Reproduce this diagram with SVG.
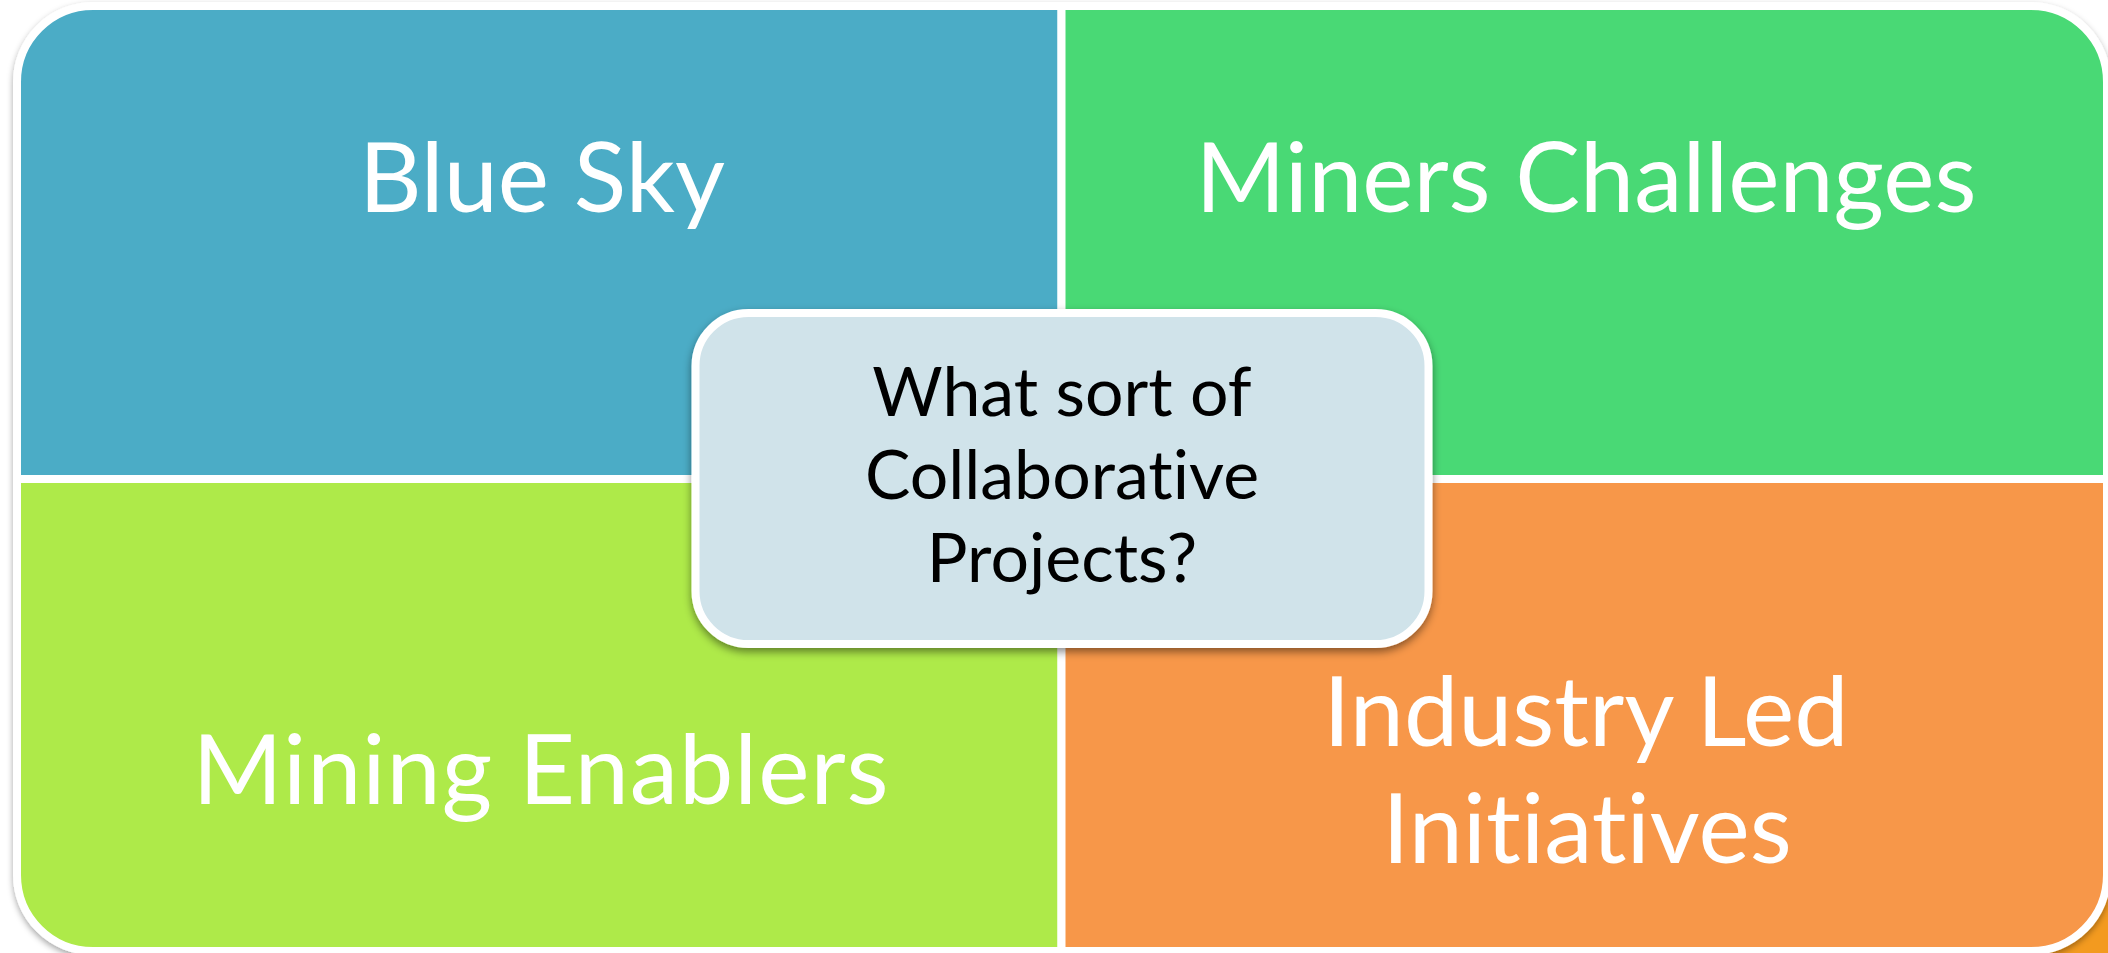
<svg xmlns="http://www.w3.org/2000/svg" width="2108" height="953" viewBox="0 0 2108 953">
  <defs>
    <filter id="shQuad" x="-5%" y="-5%" width="110%" height="115%">
      <feDropShadow dx="0" dy="3" stdDeviation="3" flood-color="#000" flood-opacity="0.35"/>
    </filter>
    <filter id="shCenter" x="-5%" y="-5%" width="110%" height="120%">
      <feDropShadow dx="0" dy="4" stdDeviation="4" flood-color="#000" flood-opacity="0.45"/>
    </filter>
    <style>
      .quad { stroke: #FFFFFF; stroke-width: 8; stroke-linejoin: round; }
      .qtext { font-family: Lato, "Liberation Sans", sans-serif; font-size: 97px; fill: #FFFFFF; text-anchor: middle; font-variant-ligatures: none; font-feature-settings: "liga" 0; }
      .ctext { font-family: Lato, "Liberation Sans", sans-serif; font-size: 68px; fill: #000000; text-anchor: middle; font-variant-ligatures: none; font-feature-settings: "liga" 0; }
    </style>
  </defs>
  <rect x="0" y="0" width="2108" height="953" fill="#FFFFFF"/>
  <path d="M2108 880 L2108 953 L2000 953 Z" fill="#F39A1F"/>
  <g id="quadrants" filter="url(#shQuad)">
    <g id="blue-sky">
      <path class="quad" fill="#4BACC6" d="M17 82 A76 76 0 0 1 93 6 L1061.5 6 L1061.5 479 L17 479 Z"/>
      <text class="qtext" x="542" y="212">Blue Sky</text>
    </g>
    <g id="miners-challenges">
      <path class="quad" fill="#4AD974" d="M1061.5 6 L2031 6 A76 76 0 0 1 2107 82 L2107 479 L1061.5 479 Z"/>
      <text class="qtext" x="1586" y="212">Miners Challenges</text>
    </g>
    <g id="mining-enablers">
      <path class="quad" fill="#AEEA48" d="M17 479 L1061.5 479 L1061.5 951 L93 951 A76 76 0 0 1 17 875 Z"/>
      <text class="qtext" x="541" y="804" letter-spacing="1">Mining Enablers</text>
    </g>
    <g id="industry-led">
      <path class="quad" fill="#F79749" d="M1061.5 479 L2107 479 L2107 875 A76 76 0 0 1 2031 951 L1061.5 951 Z"/>
      <text class="qtext" x="1586" y="746">Industry Led</text>
      <text class="qtext" x="1587" y="863">Initiatives</text>
    </g>
  </g>
  <g id="center" filter="url(#shCenter)">
    <rect x="695.5" y="313" width="733" height="331" rx="53" ry="53" fill="#D0E3EA" stroke="#FFFFFF" stroke-width="8"/>
    <text class="ctext" x="1062" y="416">What sort of</text>
    <text class="ctext" x="1062" y="499">Collaborative</text>
    <text class="ctext" x="1062" y="582">Projects?</text>
  </g>
  <g id="connectors"/>
</svg>
